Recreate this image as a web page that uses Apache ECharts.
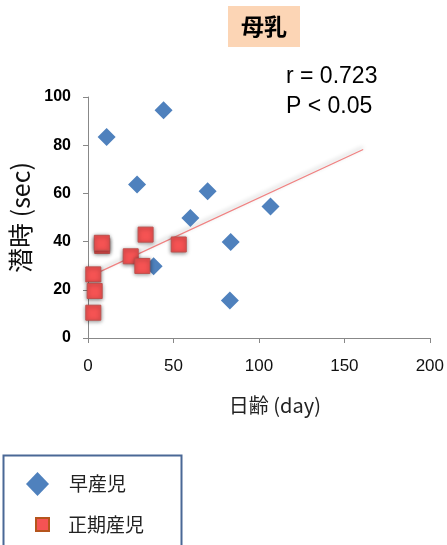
<!DOCTYPE html>
<html>
<head>
<meta charset="utf-8">
<script src="https://cdn.jsdelivr.net/npm/echarts@6/dist/echarts.min.js"></script>
<style>
  html, body { margin: 0; padding: 0; background: #fff; }
  #chart { width: 447px; height: 545px; }
</style>
</head>
<body>
<div id="chart"></div>
<script>
// data
var preterm = [
  [10.9, 83.4], [44.2, 94.5], [28.7, 63.7], [70, 60.9], [59.9, 49.8],
  [83.5, 39.8], [83, 15.6], [38.4, 29.8], [106.8, 54.6]
];
var fullterm = [
  [8.3, 38.2], [8.1, 39.5], [33.7, 42.9], [25, 33.9], [31.8, 29.9],
  [53.1, 38.8], [3.1, 26.4], [3.9, 19.5], [3.1, 10.5]
];
var trend = [[3, 26.2], [161, 78.2]];
var xTicks = [0, 50, 100, 150, 200];
var yTicks = [0, 20, 40, 60, 80, 100];

var chart = echarts.init(document.getElementById("chart"));
var jp = '"Noto Sans CJK JP", sans-serif';
var latin = '"Liberation Sans", Arial, sans-serif';
var legendText = { fontFamily: jp, fontSize: 19, color: "#222" };

chart.setOption({
  animation: false,
  title: {
    text: "母乳",
    left: 228,
    top: 6,
    backgroundColor: "#fcd5b5",
    padding: [9, 13, 9, 13],
    textStyle: { fontFamily: jp, fontSize: 23, fontWeight: "bold", color: "#000", lineHeight: 23 }
  },
  graphic: [
    {
      type: "text", left: 286, top: 62,
      style: { text: "r = 0.723\nP < 0.05", font: '23px ' + latin, fill: "#000", lineHeight: 30 }
    },
    {
      type: "rect", left: 1, top: 453,
      shape: { width: 178, height: 100 },
      style: { fill: "none", stroke: "#4a6896", lineWidth: 2 }
    }
  ],
  legend: [
    {
      left: 21, top: 467,
      itemWidth: 23, itemHeight: 24, itemGap: 0,
      textStyle: Object.assign({ padding: [0, 0, 0, 15] }, legendText),
      data: [{ name: "早産児", icon: "diamond" }]
    },
    {
      left: 30, top: 510,
      itemWidth: 13, itemHeight: 13, itemGap: 0,
      textStyle: Object.assign({ padding: [0, 0, 0, 14] }, legendText),
      data: [{ name: "正期産児", icon: "rect", itemStyle: { borderColor: "#b5551d", borderWidth: 2 } }]
    }
  ],
  grid: { left: 88, right: 15, top: 97, bottom: 207 },
  xAxis: {
    type: "value",
    min: xTicks[0],
    max: xTicks[xTicks.length - 1],
    interval: 50,
    name: "日齢 (day)",
    nameLocation: "middle",
    nameGap: 57,
    nameTextStyle: { fontFamily: jp, fontSize: 20, color: "#222", padding: [0, 0, 0, 32] },
    splitLine: { show: false },
    axisLine: { lineStyle: { color: "#888" } },
    axisTick: { show: true, length: 5, lineStyle: { color: "#888" } },
    axisLabel: { fontFamily: latin, fontSize: 17, color: "#111", margin: 20 }
  },
  yAxis: {
    type: "value",
    min: yTicks[0],
    max: yTicks[yTicks.length - 1],
    interval: 20,
    name: "潜時 (sec)",
    nameLocation: "middle",
    nameGap: 46,
    nameTextStyle: { fontFamily: jp, fontSize: 25, color: "#111" },
    splitLine: { show: false },
    axisLine: { show: true, lineStyle: { color: "#888" } },
    axisTick: { show: true, length: 5, lineStyle: { color: "#888" } },
    axisLabel: { fontFamily: latin, fontSize: 16, fontWeight: "bold", color: "#000", margin: 17 }
  },
  series: [
    {
      name: "早産児",
      type: "scatter",
      symbol: "diamond",
      symbolSize: 18,
      data: preterm,
      itemStyle: { color: "#4f81bd", opacity: 1 },
      z: 3
    },
    {
      name: "正期産児",
      type: "scatter",
      symbol: "rect",
      symbolSize: 15,
      data: fullterm,
      itemStyle: {
        color: "#f55353", borderColor: "#c0504d", borderWidth: 1, opacity: 1,
        shadowBlur: 4, shadowColor: "rgba(0,0,0,0.45)", shadowOffsetY: 1
      },
      z: 4
    },
    {
      name: "trend",
      type: "line",
      data: trend,
      symbol: "none",
      silent: true,
      lineStyle: {
        color: "#f08080", width: 1.2,
        shadowBlur: 4, shadowColor: "rgba(0,0,0,0.3)", shadowOffsetY: -2
      },
      z: 2
    }
  ]
});
</script>
</body>
</html>
